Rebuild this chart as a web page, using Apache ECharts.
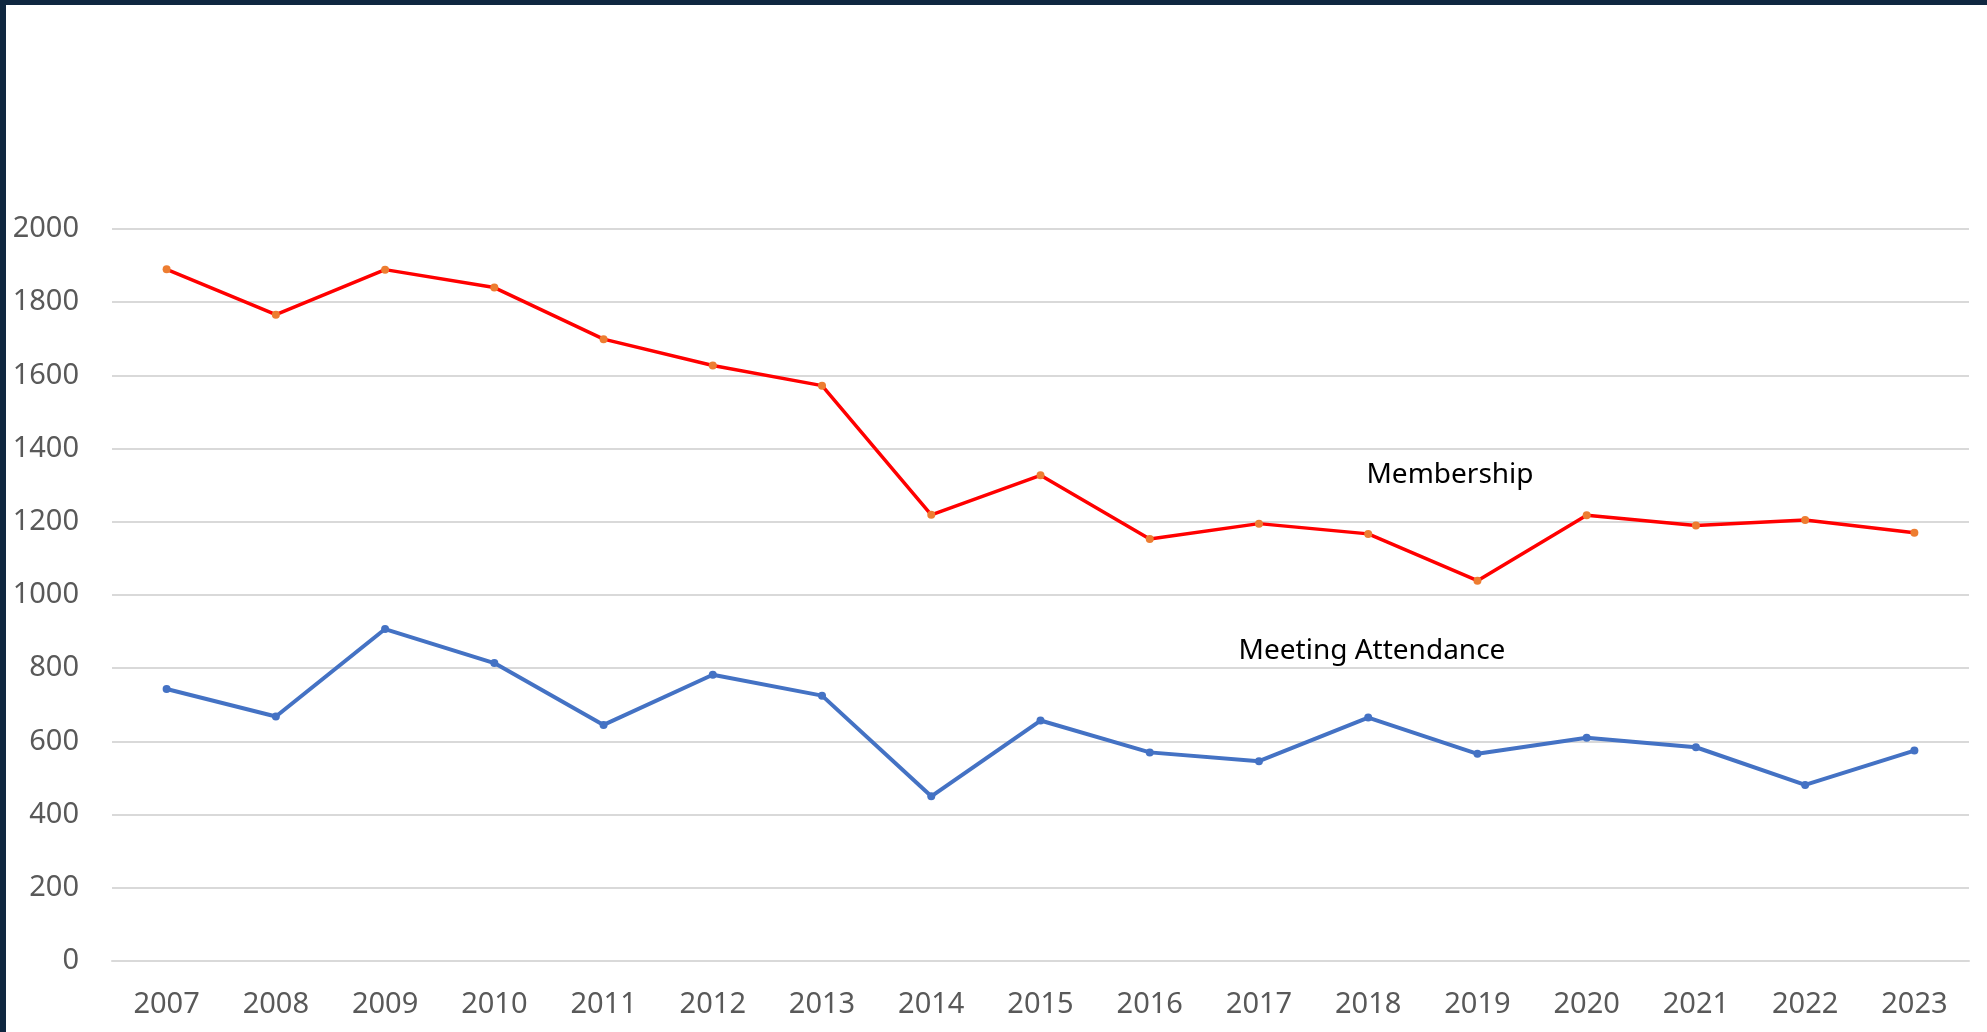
<!DOCTYPE html>
<html>
<head>
<meta charset="utf-8">
<script src="https://cdn.jsdelivr.net/npm/echarts@6/dist/echarts.min.js"></script>
<style>
  html, body { margin: 0; padding: 0; width: 1987px; height: 1032px; overflow: hidden; background: #0f2740; }
  #chart { position: absolute; left: 6px; top: 5px; width: 1981px; height: 1027px; background: #fff; }
</style>
</head>
<body>
<div id="chart"></div>
<script>
// Data
const years = ['2007', '2008', '2009', '2010', '2011', '2012', '2013', '2014', '2015',
  '2016', '2017', '2018', '2019', '2020', '2021', '2022', '2023'];
const membership = [1890, 1766, 1889, 1840, 1699, 1627, 1572, 1219, 1327,
  1153, 1195, 1167, 1039, 1218, 1190, 1205, 1170];
const attendance = [743, 668, 907, 814, 645, 782, 725, 450, 657,
  570, 546, 665, 566, 610, 584, 481, 575];
const yTicks = { min: 0, max: 2000, interval: 200 };

const FONT = '"Noto Sans", "Open Sans", sans-serif';
const labelColor = '#595959';
const gridColor = '#d9d9d9';

const chart = echarts.init(document.getElementById('chart'));

chart.setOption({
  backgroundColor: '#ffffff',
  animation: false,
  grid: { left: 106, right: 18, top: 224, bottom: 71, outerBoundsMode: 'none' },
  xAxis: {
    type: 'category',
    data: years,
    boundaryGap: true,
    axisLine: { show: true, lineStyle: { color: gridColor, width: 2 } },
    axisTick: { show: false },
    axisLabel: { color: labelColor, fontSize: 29, fontFamily: FONT, margin: 29 }
  },
  yAxis: {
    type: 'value',
    min: yTicks.min,
    max: yTicks.max,
    interval: yTicks.interval,
    axisLine: { show: false },
    axisTick: { show: false },
    axisLabel: {
      color: labelColor, fontSize: 29, fontFamily: FONT, margin: 33,
      formatter: v => String(v)
    },
    splitLine: { lineStyle: { color: gridColor, width: 2 } }
  },
  series: [
    {
      name: 'Membership',
      type: 'line',
      data: membership,
      symbol: 'circle',
      symbolSize: 8,
      lineStyle: { color: '#ff0000', width: 3.5 },
      itemStyle: { color: '#ed7d31' }
    },
    {
      name: 'Meeting Attendance',
      type: 'line',
      data: attendance,
      symbol: 'circle',
      symbolSize: 8,
      lineStyle: { color: '#4472c4', width: 4 },
      itemStyle: { color: '#4472c4' }
    }
  ],
  graphic: [
    {
      type: 'text',
      x: 1444, y: 470,
      style: { text: 'Membership', fill: '#000', font: '28px ' + FONT, align: 'center', verticalAlign: 'middle' }
    },
    {
      type: 'text',
      x: 1366, y: 646,
      style: { text: 'Meeting Attendance', fill: '#000', font: '28px ' + FONT, align: 'center', verticalAlign: 'middle' }
    }
  ]
});
</script>
</body>
</html>
